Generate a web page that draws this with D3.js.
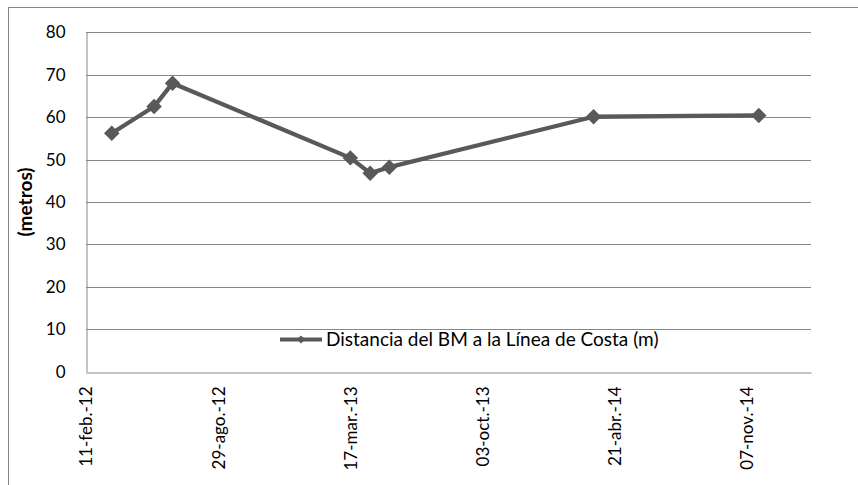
<!DOCTYPE html>
<html>
<head>
<meta charset="utf-8">
<script src="https://cdn.jsdelivr.net/npm/d3@7"></script>
<style>
  html, body { margin: 0; padding: 0; background: #fff; }
  svg { display: block; }
  text { font-family: Lato, "Open Sans", sans-serif; fill: #000; }
</style>
</head>
<body>
<svg id="chart" width="858" height="485"></svg>
<script>
// Survey dates and measured distance from the benchmark to the shoreline
const surveyDates = ["2012-03-21", "2012-05-24", "2012-06-21", "2013-03-17",
                     "2013-04-16", "2013-05-15", "2014-03-20", "2014-11-25"];
const distances = [56.2, 62.5, 68.0, 50.4, 46.8, 48.2, 60.1, 60.4];

const seriesName = "Distancia del BM a la Línea de Costa (m)";
const yTitle = "(metros)";

// Axis ticks
const xTickDates = ["2012-02-11", "2012-08-29", "2013-03-17", "2013-10-03", "2014-04-21", "2014-11-07"];
const xTickLabels = ["11-feb.-12", "29-ago.-12", "17-mar.-13", "03-oct.-13", "21-abr.-14", "07-nov.-14"];
const xDomain = ["2012-02-11", "2015-02-12"];
const yTicks = [0, 10, 20, 30, 40, 50, 60, 70, 80];

const parse = d3.utcParse("%Y-%m-%d");
const data = surveyDates.map((d, i) => ({ date: parse(d), value: distances[i] }));

const svg = d3.select("#chart");
const plot = { left: 86, right: 811, top: 32.3, bottom: 371.7 };

const x = d3.scaleUtc().domain(xDomain.map(parse)).range([plot.left, plot.right]);
const y = d3.scaleLinear().domain([0, 80]).range([plot.bottom, plot.top]);

const gridColor = "#868686";
const lineColor = "#595959";

// Square diamond symbol (equal width and height), size = area
const squareDiamond = {
  draw(ctx, size) {
    const r = Math.sqrt(size / 2);
    ctx.moveTo(0, -r);
    ctx.lineTo(r, 0);
    ctx.lineTo(0, r);
    ctx.lineTo(-r, 0);
    ctx.closePath();
  }
};

// Chart area frame
svg.append("rect")
  .attr("x", 8.5).attr("y", 7.5)
  .attr("width", 900).attr("height", 520)
  .attr("fill", "none").attr("stroke", gridColor).attr("stroke-width", 1);

// Horizontal gridlines
svg.append("g")
  .selectAll("line")
  .data(yTicks.filter(v => v > 0))
  .join("line")
  .attr("x1", plot.left).attr("x2", plot.right)
  .attr("y1", d => Math.round(y(d)) + 0.5).attr("y2", d => Math.round(y(d)) + 0.5)
  .attr("stroke", gridColor).attr("stroke-width", 1);

// Y axis
const yAxis = svg.append("g")
  .attr("transform", `translate(${plot.left + 0.5},0)`)
  .call(d3.axisLeft(y).tickValues(yTicks).tickSize(0).tickPadding(21).tickFormat(d3.format("d")));
yAxis.select(".domain").attr("stroke", gridColor);
yAxis.selectAll("text").style("font-size", "17px").style("font-family", "Lato, sans-serif").attr("fill", "#000");

// X axis
const xAxis = svg.append("g")
  .attr("transform", `translate(0,${Math.round(plot.bottom) + 0.5})`)
  .call(d3.axisBottom(x)
    .tickValues(xTickDates.map(parse))
    .tickSize(0)
    .tickFormat((d, i) => xTickLabels[i]));
xAxis.select(".domain").attr("stroke", gridColor);
xAxis.selectAll("text")
  .style("font-size", "17px").style("font-family", "Lato, sans-serif").attr("fill", "#000")
  .attr("text-anchor", "end")
  .attr("dy", "0.35em")
  .attr("y", 0)
  .attr("transform", "translate(0,14) rotate(-90)")
  .attr("x", 0);

// Y axis title
svg.append("text")
  .attr("transform", `translate(32,${(plot.top + plot.bottom) / 2}) rotate(-90)`)
  .attr("text-anchor", "middle")
  .style("font-size", "19px")
  .style("font-weight", "bold")
  .text(yTitle);

// Series line
const line = d3.line().x(d => x(d.date)).y(d => y(d.value));
svg.append("path")
  .datum(data)
  .attr("d", line)
  .attr("fill", "none")
  .attr("stroke", lineColor)
  .attr("stroke-width", 4.3)
  .attr("stroke-linejoin", "round");

// Diamond markers
const diamond = d3.symbol().type(squareDiamond).size(120);
svg.append("g")
  .selectAll("path")
  .data(data)
  .join("path")
  .attr("transform", d => `translate(${x(d.date)},${y(d.value)})`)
  .attr("d", diamond)
  .attr("fill", lineColor);

// Legend
const legend = svg.append("g").attr("transform", "translate(280,339.5)");
legend.append("line")
  .attr("x1", 0).attr("x2", 42)
  .attr("stroke", lineColor).attr("stroke-width", 4);
legend.append("path")
  .attr("transform", "translate(21,0)")
  .attr("d", d3.symbol().type(squareDiamond).size(34)())
  .attr("fill", lineColor);
legend.append("text")
  .attr("x", 46).attr("dy", "0.35em")
  .style("font-size", "19px")
  .text(seriesName);
</script>
</body>
</html>
